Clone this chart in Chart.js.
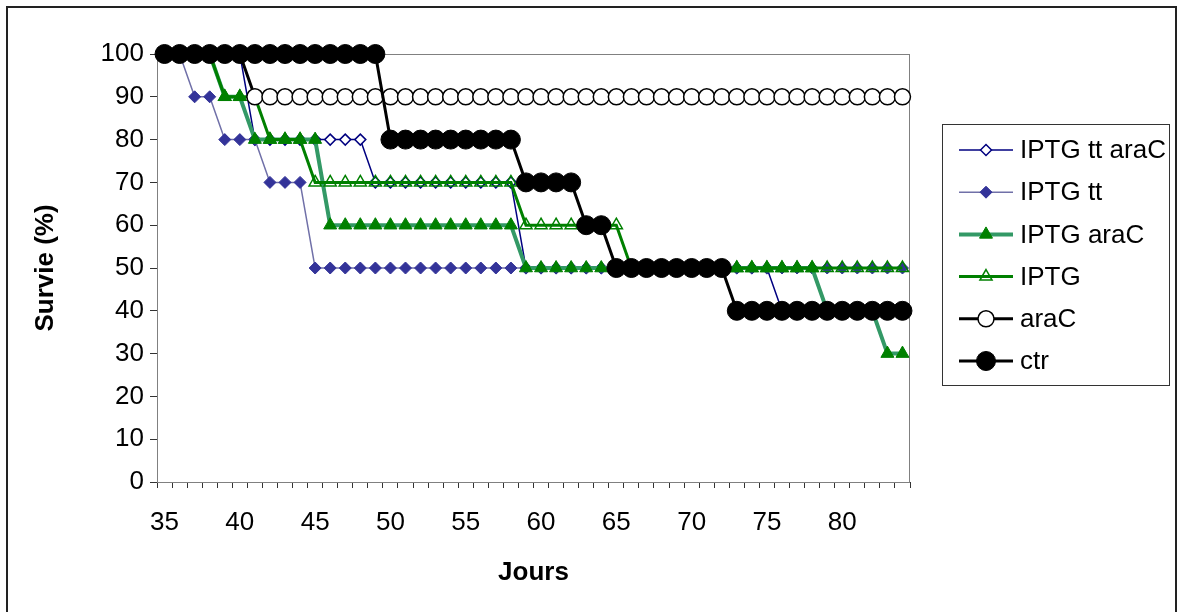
<!DOCTYPE html>
<html>
<head>
<meta charset="utf-8">
<script src="https://cdn.jsdelivr.net/npm/chart.js@4/dist/chart.umd.min.js"></script>
<style>
  html, body { margin: 0; padding: 0; background: #fff; }
  #wrap { width: 1183px; height: 612px; position: relative; }
</style>
</head>
<body>
<div id="wrap"><canvas id="survie" width="1183" height="612"></canvas></div>
<script>
// days on the x axis
const jours = [35, 36, 37, 38, 39, 40, 41, 42, 43, 44, 45, 46, 47, 48, 49, 50, 51, 52, 53, 54,
  55, 56, 57, 58, 59, 60, 61, 62, 63, 64, 65, 66, 67, 68, 69, 70, 71, 72, 73, 74,
  75, 76, 77, 78, 79, 80, 81, 82, 83, 84];

// survival (%) per group, one value per day
const iptgTtAraC = [100, 100, 100, 100, 100, 100, 80, 80, 80, 80, 80, 80, 80, 80, 70, 70, 70, 70, 70, 70,
  70, 70, 70, 70, 50, 50, 50, 50, 50, 50, 50, 50, 50, 50, 50, 50, 50, 50, 50, 50,
  50, 40, 40, 40, 40, 40, 40, 40, 40, 40];
const iptgTt = [100, 100, 90, 90, 80, 80, 80, 70, 70, 70, 50, 50, 50, 50, 50, 50, 50, 50, 50, 50,
  50, 50, 50, 50, 50, 50, 50, 50, 50, 50, 50, 50, 50, 50, 50, 50, 50, 50, 50, 50,
  50, 50, 50, 50, 50, 50, 50, 50, 50, 50];
const iptgAraC = [100, 100, 100, 100, 90, 90, 80, 80, 80, 80, 80, 60, 60, 60, 60, 60, 60, 60, 60, 60,
  60, 60, 60, 60, 50, 50, 50, 50, 50, 50, 50, 50, 50, 50, 50, 50, 50, 50, 50, 50,
  50, 50, 50, 50, 40, 40, 40, 40, 30, 30];
const iptg = [100, 100, 100, 100, 90, 90, 90, 80, 80, 80, 70, 70, 70, 70, 70, 70, 70, 70, 70, 70,
  70, 70, 70, 70, 60, 60, 60, 60, 60, 60, 60, 50, 50, 50, 50, 50, 50, 50, 50, 50,
  50, 50, 50, 50, 50, 50, 50, 50, 50, 50];
const araC = [100, 100, 100, 100, 100, 100, 90, 90, 90, 90, 90, 90, 90, 90, 90, 90, 90, 90, 90, 90,
  90, 90, 90, 90, 90, 90, 90, 90, 90, 90, 90, 90, 90, 90, 90, 90, 90, 90, 90, 90,
  90, 90, 90, 90, 90, 90, 90, 90, 90, 90];
const ctr = [100, 100, 100, 100, 100, 100, 100, 100, 100, 100, 100, 100, 100, 100, 100, 80, 80, 80, 80, 80,
  80, 80, 80, 80, 70, 70, 70, 70, 60, 60, 50, 50, 50, 50, 50, 50, 50, 50, 40, 40,
  40, 40, 40, 40, 40, 40, 40, 40, 40, 40];

const yTicks = [0, 10, 20, 30, 40, 50, 60, 70, 80, 90, 100];

const FONT = '"Liberation Sans", Arial, sans-serif';

// dataset order is reversed so that ctr ends up on top, like the original
const datasets = [
  { label: 'IPTG tt araC', data: iptgTtAraC, borderColor: '#000080', borderWidth: 1.5,
    pointStyle: 'rectRot', pointRadius: 5.5, pointBackgroundColor: '#ffffff',
    pointBorderColor: '#000080', pointBorderWidth: 1.5, order: 5 },
  { label: 'IPTG tt', data: iptgTt, borderColor: '#7070a8', borderWidth: 1.5,
    pointStyle: 'rectRot', pointRadius: 6, pointBackgroundColor: '#333399',
    pointBorderColor: '#333399', pointBorderWidth: 1, order: 4 },
  { label: 'IPTG araC', data: iptgAraC, borderColor: '#339966', borderWidth: 4,
    pointStyle: 'triangle', pointRadius: 7.5, pointBackgroundColor: '#008000',
    pointBorderColor: '#008000', pointBorderWidth: 1, order: 3 },
  { label: 'IPTG', data: iptg, borderColor: '#008000', borderWidth: 3,
    pointStyle: 'triangle', pointRadius: 7, pointBackgroundColor: 'rgba(0,0,0,0)',
    pointBorderColor: '#008000', pointBorderWidth: 1.5, order: 2 },
  { label: 'araC', data: araC, borderColor: '#000000', borderWidth: 3,
    pointStyle: 'circle', pointRadius: 8, pointBackgroundColor: '#ffffff',
    pointBorderColor: '#000000', pointBorderWidth: 1.5, order: 1 },
  { label: 'ctr', data: ctr, borderColor: '#000000', borderWidth: 3,
    pointStyle: 'circle', pointRadius: 9.5, pointBackgroundColor: '#000000',
    pointBorderColor: '#000000', pointBorderWidth: 1, order: 0 },
];
datasets.forEach((d) => { d.tension = 0; d.fill = false; d.clip = false; d.pointHoverRadius = d.pointRadius; });

// frame, plot border and the boxed legend on the right
const decor = {
  id: 'decor',
  beforeDatasetsDraw(chart) {
    const { ctx, chartArea: a } = chart;
    ctx.save();
    ctx.strokeStyle = '#808080';
    ctx.lineWidth = 1;
    ctx.strokeRect(a.left + 0.5, a.top + 0.5, a.right - a.left - 1, a.bottom - a.top);
    ctx.restore();
  },
  afterDraw(chart) {
    const { ctx } = chart;
    ctx.save();
    // outer frame
    ctx.strokeStyle = '#222';
    ctx.lineWidth = 2;
    ctx.strokeRect(7, 7, 1169, 640);
    // legend box
    ctx.lineWidth = 1;
    ctx.strokeStyle = '#333';
    ctx.strokeRect(942.5, 124.5, 227, 261);
    ctx.font = '26px ' + FONT;
    ctx.textBaseline = 'middle';
    ctx.textAlign = 'left';
    datasets.forEach((d, i) => {
      const y = 150 + i * 42.2;
      ctx.strokeStyle = d.borderColor;
      ctx.lineWidth = d.borderWidth;
      ctx.beginPath();
      ctx.moveTo(959, y);
      ctx.lineTo(1013, y);
      ctx.stroke();
      ctx.fillStyle = d.pointBackgroundColor;
      ctx.strokeStyle = d.pointBorderColor;
      ctx.lineWidth = d.pointBorderWidth;
      Chart.helpers.drawPoint(ctx, {
        pointStyle: d.pointStyle, radius: d.pointRadius, rotation: 0, borderWidth: d.pointBorderWidth,
      }, 986, y);
      ctx.fillStyle = '#000';
      ctx.fillText(d.label, 1020, y + 1);
    });
    ctx.restore();
  },
};

new Chart(document.getElementById('survie'), {
  type: 'line',
  data: { labels: jours, datasets },
  options: {
    responsive: false,
    animation: false,
    events: [],
    layout: { padding: { top: 54, right: 273, bottom: 0, left: 0 } },
    plugins: { legend: { display: false }, tooltip: { enabled: false } },
    scales: {
      x: {
        type: 'category',
        offset: true,
        grid: { offset: true, drawOnChartArea: false, drawTicks: true, tickLength: 6, color: '#333' },
        border: { display: true, color: '#333', width: 1 },
        ticks: {
          autoSkip: false,
          maxRotation: 0,
          padding: 19,
          color: '#000',
          font: { family: FONT, size: 26 },
          callback(value) {
            const day = jours[value];
            return (day - 35) % 5 === 0 ? String(day) : '';
          },
        },
        title: {
          display: true, text: 'Jours', color: '#000',
          font: { family: FONT, size: 26, weight: 'bold' },
          padding: { top: 0, bottom: 24 },
        },
        afterFit(scale) { scale.height = 130; },
      },
      y: {
        min: 0,
        max: 100,
        afterBuildTicks(scale) { scale.ticks = yTicks.map((v) => ({ value: v })); },
        grid: { drawOnChartArea: false, drawTicks: true, tickLength: 7, color: '#333' },
        border: { display: true, color: '#333', width: 1 },
        ticks: { padding: 6, color: '#000', font: { family: FONT, size: 26 } },
        title: {
          display: true, text: 'Survie (%)', color: '#000',
          font: { family: FONT, size: 26, weight: 'bold' },
          padding: { top: 30, bottom: 0 },
        },
        afterFit(scale) { scale.width = 157; },
      },
    },
  },
  plugins: [decor],
});
</script>
</body>
</html>
